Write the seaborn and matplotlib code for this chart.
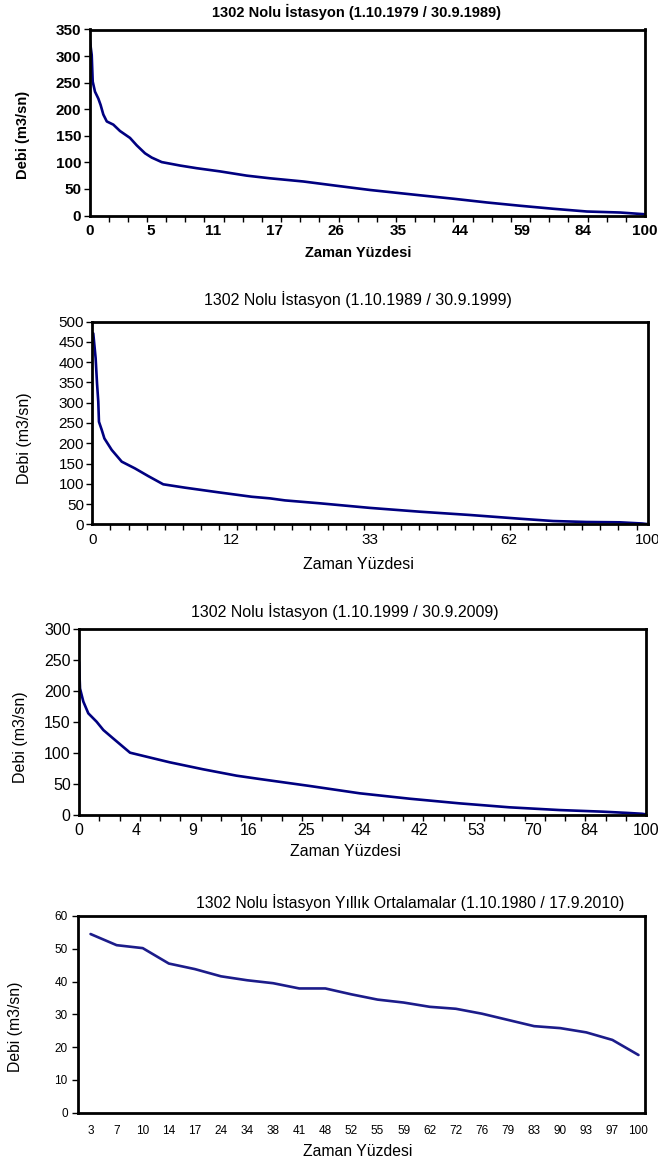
import numpy as np
import pandas as pd
import seaborn as sns
import matplotlib.pyplot as plt
from matplotlib.ticker import FixedLocator

sns.set_style("white")
plt.rcParams['font.family'] = ['Liberation Sans', 'DejaVu Sans']
plt.rcParams['text.color'] = 'black'
plt.rcParams['xtick.color'] = 'black'
plt.rcParams['ytick.color'] = 'black'

# --- 1.10.1979 / 30.9.1989 (x = position along the category axis, in label steps)
sira1 = [0.0, 0.036, 0.052, 0.089, 0.143, 0.18, 0.224, 0.28, 0.386, 0.494, 0.656,
         0.765, 0.9, 1.008, 1.17, 1.467, 1.737, 2.115, 2.548, 2.925, 3.465, 4.0,
         4.546, 5.357, 5.9, 6.44, 6.98, 7.52, 8.06, 8.6, 8.98, 9.0]
debi1 = [335, 302, 252, 233, 220, 208, 190, 177, 171, 159, 146,
         132, 117, 109, 100.5, 94, 89, 83, 75, 70, 64, 56,
         48, 38, 31.5, 24.5, 18.3, 12.6, 7.5, 5.6, 2.5, 1.5]
etiket1 = ['0', '5', '11', '17', '26', '35', '44', '59', '84', '100']

# --- 1.10.1989 / 30.9.1999
sira2 = [0.0, 0.007, 0.024, 0.034, 0.043, 0.048, 0.068, 0.087, 0.14, 0.212, 0.307,
         0.403, 0.511, 0.668, 0.907, 1.148, 1.28, 1.388, 1.64, 2.0, 2.36, 2.72,
         3.08, 3.32, 3.56, 3.8, 3.96, 4.0]
debi2 = [472, 471, 410, 348, 303, 253, 233, 212, 183.5, 154.6, 138,
         119, 98.7, 90.4, 79, 68, 64, 59, 51.8, 40.5, 31.1, 23,
         13.8, 8.1, 5.7, 4.9, 2, 0.5]
etiket2 = ['0', '12', '33', '62', '100']

# --- 1.10.1999 / 30.9.2009
sira3 = [0.0, 0.018, 0.076, 0.164, 0.31, 0.43, 0.6, 0.9, 1.31, 1.6, 2.19, 2.78,
         3.19, 4.07, 4.95, 5.83, 6.71, 7.59, 8.47, 9.23, 9.64, 9.93, 10.0]
debi3 = [247, 204, 183, 164, 150.5, 137, 123.7, 100.5, 91.4, 85, 73.7, 63.4,
         58, 46.8, 35, 26.3, 18.8, 12.4, 8, 5.4, 3.5, 2, 1]
etiket3 = ['0', '4', '9', '16', '25', '34', '42', '53', '70', '84', '100']

# --- annual means 1.10.1980 / 17.9.2010
yuzde4 = ['3', '7', '10', '14', '17', '24', '34', '38', '41', '48', '52',
          '55', '59', '62', '72', '76', '79', '83', '90', '93', '97', '100']
debi4 = [54.5, 51.1, 50.2, 45.5, 43.8, 41.6, 40.4, 39.5, 37.9, 37.9, 36.1,
         34.5, 33.6, 32.3, 31.7, 30.2, 28.3, 26.4, 25.8, 24.5, 22.2, 17.6]

NAVY = '#000080'
W, H = 658, 1164
fig = plt.figure(figsize=(W / 100, H / 100), dpi=100)


def box(l, t, r, b):
    return [l / W, 1 - b / H, (r - l) / W, (b - t) / H]


def frame(ax, lw):
    for s in ax.spines.values():
        s.set_visible(True)
        s.set_color('black')
        s.set_linewidth(lw)
    ax.set_xlabel('')
    ax.set_ylabel('')


def flow_panel(rect, x, y, labels, nminor, ymax, ystep, title, tx, ty, xl, yl,
               bold, fs, tfs):
    ax = fig.add_axes(box(*rect))
    df = pd.DataFrame({'sira': x, 'debi': y})
    sns.lineplot(data=df, x='sira', y='debi', color=NAVY, linewidth=1.9, sort=False, ax=ax)
    n = len(labels) - 1
    ax.set_xlim(0, n)
    ax.set_ylim(0, ymax)
    ax.set_xticks(range(n + 1))
    ax.set_xticklabels(labels)
    ax.xaxis.set_minor_locator(FixedLocator(np.arange(0, n + 1e-6, n / nminor)))
    ax.set_yticks(np.arange(0, ymax + 1, ystep))
    ax.tick_params(axis='x', which='major', bottom=True, length=0, pad=6, labelsize=fs)
    ax.tick_params(axis='x', which='minor', bottom=True, length=4, width=1, direction='out')
    ax.tick_params(axis='y', left=True, length=4, width=1, direction='out', pad=2, labelsize=fs)
    wt = 'bold' if bold else 'normal'
    for lab in ax.get_xticklabels() + ax.get_yticklabels():
        lab.set_fontweight(wt)
    frame(ax, 2.0)
    fig.text(tx / W, 1 - ty / H, title, ha='center', va='center', fontsize=tfs, fontweight=wt)
    fig.text(xl[0] / W, 1 - xl[1] / H, 'Zaman Yüzdesi', ha='center', va='center',
             fontsize=tfs, fontweight=wt)
    fig.text(yl[0] / W, 1 - yl[1] / H, 'Debi (m3/sn)', ha='center', va='center',
             rotation=90, fontsize=tfs, fontweight=wt)
    return ax


flow_panel((89.5, 29.5, 645, 215.5), sira1, debi1, etiket1, 29, 350, 50,
           '1302 Nolu İstasyon (1.10.1979 / 30.9.1989)', 356, 12,
           (358, 253), (23, 135), True, 11, 10.5)
flow_panel((92.3, 321.7, 647.5, 524.3), sira2, debi2, etiket2, 30.6, 500, 50,
           '1302 Nolu İstasyon (1.10.1989 / 30.9.1999)', 358, 300,
           (358, 564), (25, 438), False, 11, 11.5)
flow_panel((79, 629, 646, 815), sira3, debi3, etiket3, 28, 300, 50,
           '1302 Nolu İstasyon (1.10.1999 / 30.9.2009)', 345, 612,
           (345, 851), (21, 737), False, 11.5, 11.5)

# annual means panel
ax4 = fig.add_axes(box(77.5, 916, 645, 1112.7))
df4 = pd.DataFrame({'sira': np.arange(len(debi4)), 'debi': debi4})
sns.lineplot(data=df4, x='sira', y='debi', color='#1c1c8a', linewidth=1.9, ax=ax4)
ax4.set_xlim(-0.5, 21.25)
ax4.set_ylim(0, 60)
ax4.set_yticks(np.arange(0, 61, 10))
ax4.set_xticks(range(len(yuzde4)))
ax4.set_xticklabels(yuzde4)
ax4.tick_params(axis='x', length=0, pad=9, labelsize=8.5)
ax4.tick_params(axis='y', left=True, length=4, width=1, direction='out', pad=3, labelsize=8.5)
frame(ax4, 2.0)
fig.text(410 / W, 1 - 903 / H, '1302 Nolu İstasyon Yıllık Ortalamalar (1.10.1980 / 17.9.2010)',
         ha='center', va='center', fontsize=11.3)
fig.text(358 / W, 1 - 1152 / H, 'Zaman Yüzdesi', ha='center', va='center', fontsize=11.3)
fig.text(16 / W, 1 - 1027 / H, 'Debi (m3/sn)', ha='center', va='center', rotation=90, fontsize=11.3)

fig.savefig('out.png', dpi=100, facecolor='white')
